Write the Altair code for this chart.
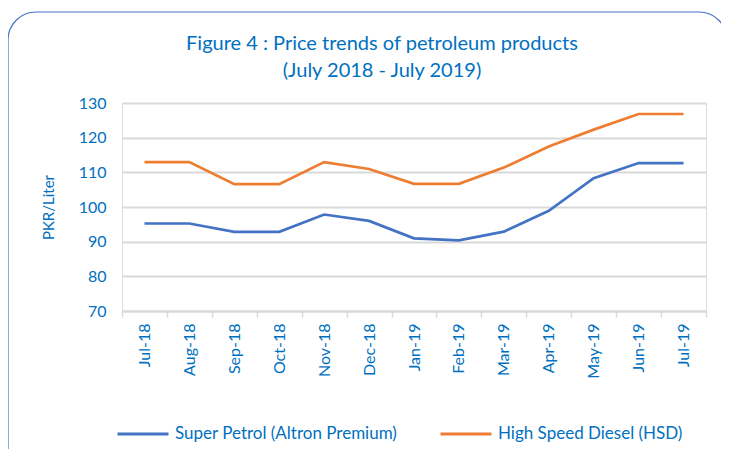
import altair as alt
import pandas as pd

months = ["Jul-18", "Aug-18", "Sep-18", "Oct-18", "Nov-18", "Dec-18", "Jan-19",
          "Feb-19", "Mar-19", "Apr-19", "May-19", "Jun-19", "Jul-19"]
petrol = [95.24, 95.24, 92.83, 92.83, 97.83, 95.99, 90.97, 90.39, 92.89, 98.89, 108.31, 112.68, 112.68]
diesel = [112.94, 112.94, 106.57, 106.57, 112.94, 110.97, 106.68, 106.68, 111.36, 117.43, 122.32, 126.82, 126.82]
series = ["Super Petrol (Altron Premium)", "High Speed Diesel (HSD)"]
colors = ["#4472C4", "#ED7D31"]

rows = []
for name, vals in zip(series, [petrol, diesel]):
    for m, v in zip(months, vals):
        rows.append({"month": m, "price": v, "series": name})
df = pd.DataFrame(rows)

BLUE = "#0070C0"
FONT = "Lato"

lines = alt.Chart(df).mark_line(strokeWidth=2.7, clip=False).encode(
    x=alt.X("month:N", sort=months, title=None,
            scale=alt.Scale(paddingInner=0, paddingOuter=0),
            axis=alt.Axis(labelAngle=-90, labelColor=BLUE, labelFontSize=16, labelFont=FONT,
                          labelPadding=6, tickBand="extent", ticks=True, tickColor="#d9d9d9",
                          tickSize=6, tickWidth=1.5, domainColor="#d9d9d9", domainWidth=2,
                          grid=False)),
    y=alt.Y("price:Q", title="PKR/Liter",
            scale=alt.Scale(domain=[70, 130], nice=False, zero=False),
            axis=alt.Axis(values=[70, 80, 90, 100, 110, 120, 130], labelColor=BLUE,
                          labelFontSize=16, labelFont=FONT, labelPadding=16, ticks=False,
                          domain=False, grid=True, gridColor="#d9d9d9", gridWidth=2,
                          titleColor=BLUE, titleFontSize=15, titleFont=FONT,
                          titleFontWeight="normal", titlePadding=22)),
    color=alt.Color("series:N", sort=series,
                    scale=alt.Scale(domain=series, range=colors),
                    legend=alt.Legend(title=None, orient="none", direction="horizontal",
                                      legendX=-6, legendY=304, symbolType="stroke",
                                      symbolSize=2600, symbolStrokeWidth=3,
                                      labelFontSize=17, labelFont=FONT, labelColor=BLUE,
                                      labelOffset=5, columnPadding=36, labelLimit=400)),
)

frame = alt.Chart(pd.DataFrame({"k": [0]})).mark_rect(
    fill="transparent", stroke="#4472C4", strokeWidth=1.2, cornerRadius=28, clip=False
).encode(
    x=alt.value(-114), x2=alt.value(605), y=alt.value(-91), y2=alt.value(380)
)

chart = alt.layer(frame, lines).properties(
    width=584, height=208,
    autosize=alt.AutoSizeParams(type="none"),
    padding={"left": 114, "top": 95, "right": 15, "bottom": 138},
    title=alt.Title(["Figure 4 : Price trends of petroleum products", "(July 2018 - July 2019)"],
                    fontSize=20, font=FONT, color=BLUE, fontWeight="normal",
                    anchor="middle", dx=-32, offset=-70, lineHeight=27),
).configure_view(fill="#eeeeee", stroke=None).configure(background="white")

chart.save("out.html", embed_options={"renderer": "svg", "actions": False})
